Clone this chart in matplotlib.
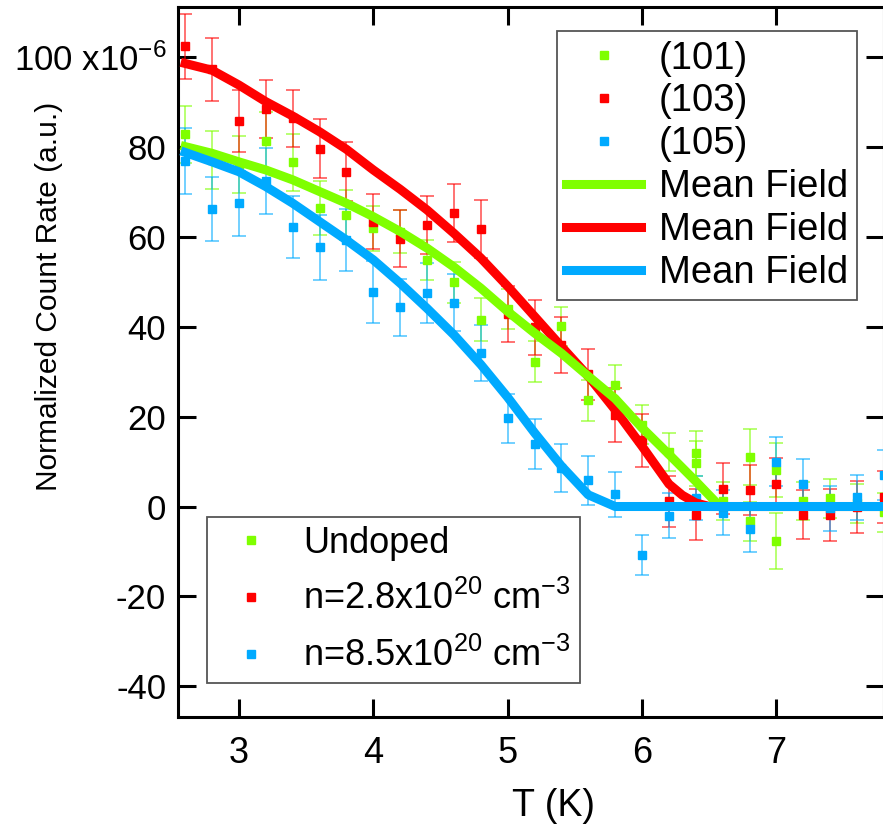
# Normalized count rate vs temperature for three Bragg peaks,
# with the mean field curves drawn on top

import matplotlib
matplotlib.use("Agg")
import matplotlib.pyplot as plt
from matplotlib.ticker import FixedLocator, FuncFormatter

plt.rcParams["font.family"] = ["Liberation Sans", "DejaVu Sans"]
plt.rcParams["mathtext.default"] = "regular"

# --- data (units of 1e-6) ---
T_101 = [2.6, 2.8, 3.0, 3.2, 3.4, 3.6, 3.8, 4.0, 4.2, 4.4, 4.6, 4.8, 5.0, 5.2,
         5.4, 5.6, 5.8, 6.0, 6.2, 6.4, 6.4, 6.6, 6.8, 6.8, 7.0, 7.0, 7.2, 7.4,
         7.6, 7.8]
rate_101 = [82.8, 77.1, 76.1, 81.4, 76.6, 66.4, 64.9, 61.9, 61.2, 54.9, 49.9,
            41.6, 44.0, 32.2, 40.1, 23.6, 27.1, 18.2, 12.1, 11.8, 9.6, 1.2,
            11.0, -3.3, 8.2, -7.6, 1.2, 1.8, 0.7, -1.3]
err_101 = [6.3, 6.4, 6.4, 6.4, 6.4, 6.0, 5.5, 5.0, 4.7, 4.5, 4.6, 4.7, 4.5,
           4.6, 4.4, 4.5, 4.4, 4.3, 4.3, 5.0, 5.0, 4.3, 6.2, 4.3, 6.0, 6.2,
           4.3, 4.4, 4.4, 4.4]

T_103 = [2.6, 2.8, 3.0, 3.2, 3.4, 3.6, 3.8, 4.0, 4.2, 4.4, 4.6, 4.8, 5.0, 5.2,
         5.4, 5.6, 5.8, 6.0, 6.2, 6.4, 6.6, 6.8, 7.0, 7.2, 7.4, 7.6, 7.8]
rate_103 = [102.4, 97.3, 85.8, 88.5, 86.4, 79.6, 74.5, 63.4, 59.6, 62.7, 65.3,
            61.8, 42.8, 39.9, 36.0, 29.4, 20.4, 14.7, 1.2, -1.8, 4.0, 3.6, 5.1,
            -1.8, -1.8, -0.1, 2.1]
err_103 = [7.2, 7.0, 6.8, 6.5, 6.4, 6.6, 6.6, 6.2, 6.4, 6.4, 6.4, 6.4, 6.2,
           6.1, 6.2, 5.7, 6.0, 5.9, 5.7, 5.7, 5.6, 5.6, 5.6, 5.5, 5.8, 5.7, 5.7]

T_105 = [2.6, 2.8, 3.0, 3.2, 3.4, 3.6, 3.8, 4.0, 4.2, 4.4, 4.6, 4.8, 5.0, 5.2,
         5.4, 5.6, 5.8, 6.0, 6.2, 6.4, 6.6, 6.8, 7.0, 7.2, 7.4, 7.6, 7.8]
rate_105 = [76.9, 66.2, 67.5, 72.4, 62.3, 57.7, 59.3, 47.7, 44.3, 47.6, 45.4,
            34.1, 19.6, 13.9, 8.6, 5.8, 2.7, -10.8, -2.1, 1.9, -1.4, -5.1,
            10.0, 4.9, -0.4, 2.1, 7.0]
err_105 = [7.4, 7.2, 7.2, 7.4, 6.9, 7.2, 7.0, 6.9, 6.3, 6.7, 6.4, 6.2, 5.5,
           5.5, 5.3, 5.5, 5.0, 4.5, 5.0, 5.0, 5.0, 5.0, 5.4, 5.6, 5.0, 5.0, 5.5]

# mean field curves
T_mf_101 = [2.6, 2.8, 3.0, 3.2, 3.4, 3.6, 3.8, 4.0, 4.2, 4.4, 4.6, 4.8, 5.0,
            5.2, 5.4, 5.6, 5.8, 6.0, 6.2, 6.4, 6.58, 7.8]
mf_101 = [80.1, 78.6, 76.7, 74.9, 72.7, 70.1, 67.5, 64.5, 61.2, 57.5, 53.3,
          48.6, 43.4, 38.6, 34.1, 29.0, 24.0, 17.5, 11.6, 5.6, 0.0, 0.0]

T_mf_103 = [2.6, 2.8, 3.0, 3.2, 3.4, 3.6, 3.8, 4.0, 4.2, 4.4, 4.6, 4.8, 5.0,
            5.2, 5.4, 5.6, 5.8, 6.0, 6.2, 6.3, 6.4, 6.5, 7.8]
mf_103 = [98.6, 97.1, 93.8, 90.1, 86.9, 83.4, 79.5, 74.9, 70.6, 66.0, 60.8,
          55.3, 49.0, 42.3, 35.6, 29.0, 21.5, 13.4, 5.0, 2.5, 0.8, 0.0, 0.0]

T_mf_105 = [2.6, 2.8, 3.0, 3.2, 3.4, 3.6, 3.8, 4.0, 4.2, 4.4, 4.6, 4.8, 5.0,
            5.2, 5.4, 5.6, 5.8, 7.8]
mf_105 = [78.8, 76.7, 74.5, 71.2, 67.5, 63.4, 59.3, 54.9, 49.7, 44.1, 38.2,
          31.6, 24.3, 16.4, 9.0, 2.6, 0.0, 0.0]

peak_labels = ["(101)", "(103)", "(105)"]
sample_labels = ["Undoped", "n=2.8x10$^{20}$ cm$^{-3}$",
                 "n=8.5x10$^{20}$ cm$^{-3}$"]

GREEN = "#7FFF00"
RED = "#FF0000"
BLUE = "#00AAFF"

fig = plt.figure(figsize=(8.83, 8.27), dpi=100)
ax = fig.add_axes([0.2016, 0.1327, 0.7995, 0.8585])

# error bars first, squares on top, mean field lines last
series = [(T_101, rate_101, err_101, GREEN),
          (T_103, rate_103, err_103, RED),
          (T_105, rate_105, err_105, BLUE)]
points = []
for t, r, e, c in series:
    ax.errorbar(t, r, yerr=e, fmt="none", ecolor=c, alpha=0.7,
                elinewidth=1.1, capsize=4.7, capthick=1.1, zorder=2)
    p, = ax.plot(t, r, "s", color=c, markersize=5.3, linestyle="none", zorder=3)
    points.append(p)

mf_red, = ax.plot(T_mf_103, mf_103, color=RED, lw=6.5, zorder=4,
                  solid_joinstyle="round")
mf_green, = ax.plot(T_mf_101, mf_101, color=GREEN, lw=6.5, zorder=5,
                    solid_joinstyle="round")
mf_blue, = ax.plot(T_mf_105, mf_105, color=BLUE, lw=6.5, zorder=6,
                   solid_joinstyle="round")

ax.set_xlim(2.547, 7.80)
ax.set_ylim(-46.9, 111.1)

ax.xaxis.set_major_locator(FixedLocator([3, 4, 5, 6, 7]))
ax.yaxis.set_major_locator(FixedLocator([-40, -20, 0, 20, 40, 60, 80, 100]))


def ylab(v, pos):
    if round(v) == 100:
        return "100 x10$^{-6}$"
    return "%d" % v


ax.yaxis.set_major_formatter(FuncFormatter(ylab))

for s in ax.spines.values():
    s.set_linewidth(2.2)
ax.tick_params(which="both", direction="in", length=13, width=2.2,
               top=True, right=True)
ax.tick_params(axis="x", labelsize=26, pad=13.5)
ax.tick_params(axis="y", labelsize=25, pad=8.5)

ax.set_xlabel("T (K)", fontsize=27)
ax.xaxis.set_label_coords(0.532, -0.0996)

ax.set_ylabel("Normalized Count Rate (a.u.)", fontsize=21.5)
ax.yaxis.set_label_coords(-0.163, 0.5934)

leg_style = dict(frameon=True, fancybox=False, framealpha=1,
                 edgecolor="#555555", borderaxespad=0, borderpad=0.25,
                 handlelength=1.95, handletextpad=0.47, markerscale=1.0)

leg1 = ax.legend(points + [mf_green, mf_red, mf_blue],
                 peak_labels + ["Mean Field"] * 3,
                 loc="upper right", bbox_to_anchor=(0.9625, 0.9666),
                 fontsize=27.5, labelspacing=0.18, **leg_style)
leg1.get_frame().set_linewidth(1.3)
ax.add_artist(leg1)

leg2 = ax.legend(points, sample_labels, loc="lower left",
                 bbox_to_anchor=(0.0407, 0.0479), fontsize=26,
                 labelspacing=0.57, **leg_style)
leg2.get_frame().set_linewidth(1.3)

fig.savefig("out.png", dpi=100)
